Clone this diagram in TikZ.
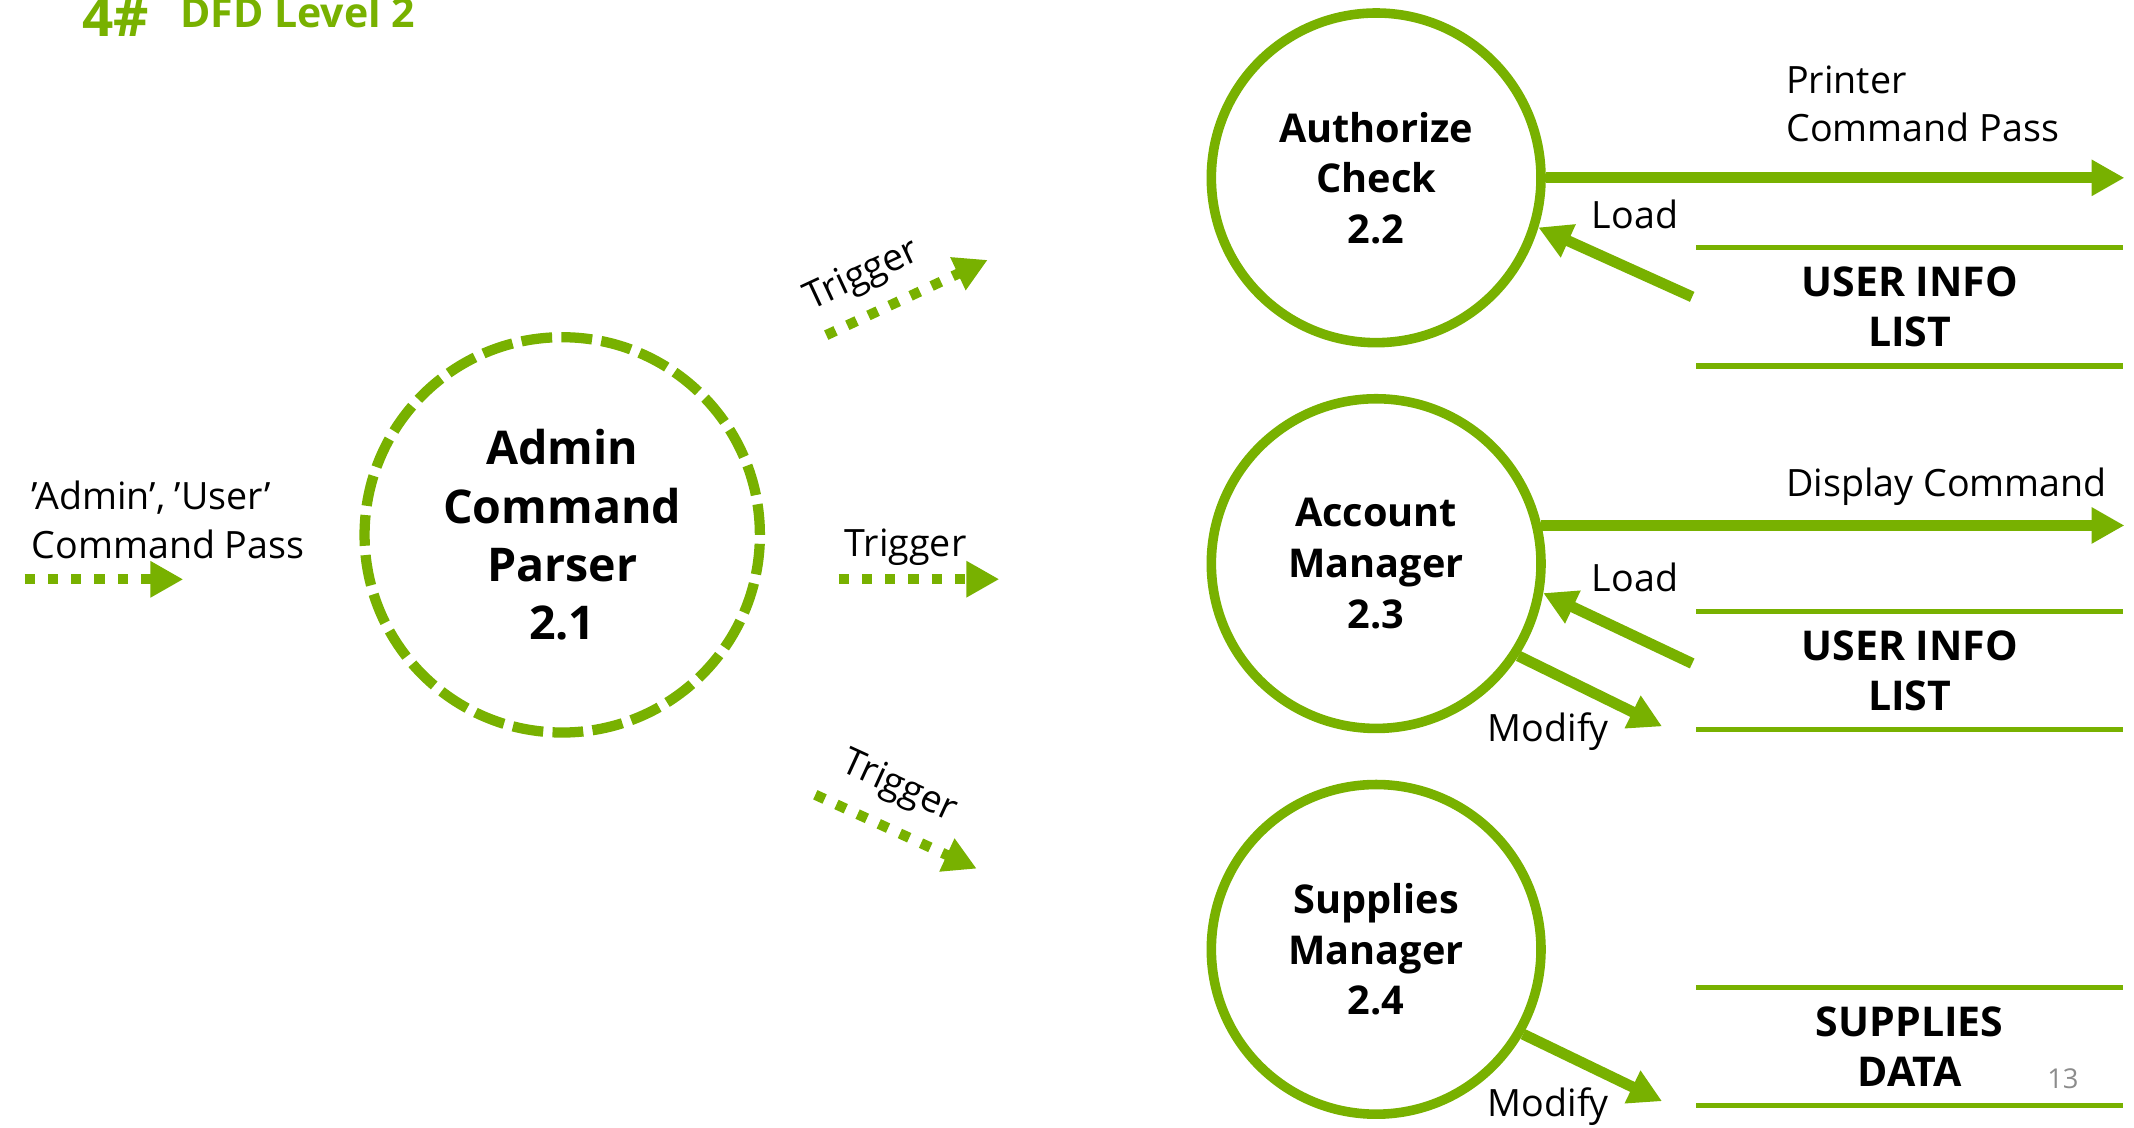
\documentclass[tikz,border=0pt]{standalone}
\usepackage{fontspec}
\setmainfont{Open Sans}
\usetikzlibrary{arrows.meta}
\definecolor{dfdgreen}{RGB}{120,177,0}
\tikzset{
  flow/.style={draw=dfdgreen, line width=8pt, -{Triangle[length=24pt,width=25pt]}},
  trig/.style={draw=dfdgreen, line width=7.5pt, dash pattern=on 7.5pt off 9.5pt, -{Triangle[length=24pt,width=25pt]}},
  proc/.style={circle, draw=dfdgreen, line width=7pt, minimum size=241pt, inner sep=0pt, align=center,
    font=\bfseries\fontsize{29}{37}\selectfont},
  parserproc/.style={circle, draw=dfdgreen, line width=7.5pt, dash pattern=on 22.5pt off 6.8pt, minimum size=289pt,
    inner sep=0pt, align=center, font=\bfseries\fontsize{34}{42.7}\selectfont},
  storeline/.style={draw=dfdgreen, line width=4pt},
  storetext/.style={inner sep=0pt, align=center, font=\bfseries\fontsize{30}{37}\selectfont},
  lbl/.style={inner sep=0pt, font=\fontsize{27.5}{35.2}\selectfont},
}
\begin{document}
\begin{tikzpicture}[x=1pt,y=-1pt]
\useasboundingbox (0,0) rectangle (1560,824);
\clip (0,0) rectangle (1560,824);

% title
\node[anchor=base west, inner sep=0pt, text=dfdgreen, font=\bfseries\fontsize{40}{40}\selectfont] (t4) at (60,26.8) {4\#};
\node[anchor=base west, inner sep=0pt, text=dfdgreen, font=\bfseries\fontsize{30}{30}\selectfont] (tdfd) at (131.6,20) {DFD Level 2};

% processes
\node[parserproc] (parser) at (411,391) {Admin\\Command\\Parser\\2.1};
\node[proc] (auth) at (1006,130) {Authorize\\Check\\2.2};
\node[proc] (acct) at (1006,412) {Account\\Manager\\2.3};
\node[proc] (supp) at (1006,694) {Supplies\\Manager\\2.4};

% data stores
\draw[storeline] (1240,180.8) -- (1552,180.8);
\draw[storeline] (1240,267.5) -- (1552,267.5);
\node[storetext] (store1) at (1396,224.2) {USER INFO\\LIST};
\draw[storeline] (1240,447.1) -- (1552,447.1);
\draw[storeline] (1240,533.1) -- (1552,533.1);
\node[storetext] (store2) at (1396,490.4) {USER INFO\\LIST};
\draw[storeline] (1240,721.7) -- (1552,721.7);
\draw[storeline] (1240,808) -- (1552,808);
\node[storetext] (store3) at (1396,765) {SUPPLIES\\DATA};

% free ends
\coordinate (in0) at (18,423.5);
\coordinate (in1) at (134,423.5);
\coordinate (tt0) at (604,245);
\coordinate (tt1) at (722,190);
\coordinate (tm0) at (613,423.4);
\coordinate (tm1) at (730.5,423.4);
\coordinate (tb0) at (596,581);
\coordinate (tb1) at (714,635);
\coordinate (prend) at (1553,0);
\coordinate (ls1) at (1237,217);
\coordinate (ls2) at (1237,485);
\coordinate (mt1) at (1215,531);
\coordinate (mt2) at (1215,805);

% input
\draw[trig] (in0) -- (in1);
\node[lbl, anchor=west, align=left] (inlbl) at (23,380) {'Admin', 'User'\\Command Pass};

% triggers
\draw[trig] (tt0) -- (tt1);
\draw[trig] (tm0) -- (tm1);
\draw[trig] (tb0) -- (tb1);
\node[lbl, rotate=25] (trigt) at (630.5,201.8) {Trigger};
\node[lbl, anchor=base] (trigm) at (662,407) {Trigger};
\node[lbl, rotate=-24.6] (trigb) at (657.2,575.8) {Trigger};

% authorize check flows
\draw[flow] (auth.east) -- (prend |- auth.east);
\node[lbl, anchor=west, align=left] (prlbl) at (1305.6,76.1) {Printer\\Command Pass};
\draw[flow] (ls1) -- (auth.-17);
\node[lbl, anchor=base west] (load1) at (1163.5,166.9) {Load};

% account manager flows
\draw[flow] (acct.13) -- (prend |- acct.13);
\node[lbl, anchor=base west] (displbl) at (1305.6,363) {Display Command};
\draw[flow] (ls2) -- (acct.-10);
\node[lbl, anchor=base west] (load2) at (1163.5,432.5) {Load};
\draw[flow] (acct.-33) -- (mt1);
\node[lbl, anchor=base west] (mod1) at (1087.4,542.2) {Modify};

% supplies manager flows
\draw[flow] (supp.-30) -- (mt2);
\node[lbl, anchor=base west] (mod2) at (1087.4,816.3) {Modify};

% page number
\node[anchor=base, inner sep=0pt, text=black!45, font=\fontsize{20}{20}\selectfont] (pgno) at (1508,795.6) {13};
\end{tikzpicture}
\end{document}
